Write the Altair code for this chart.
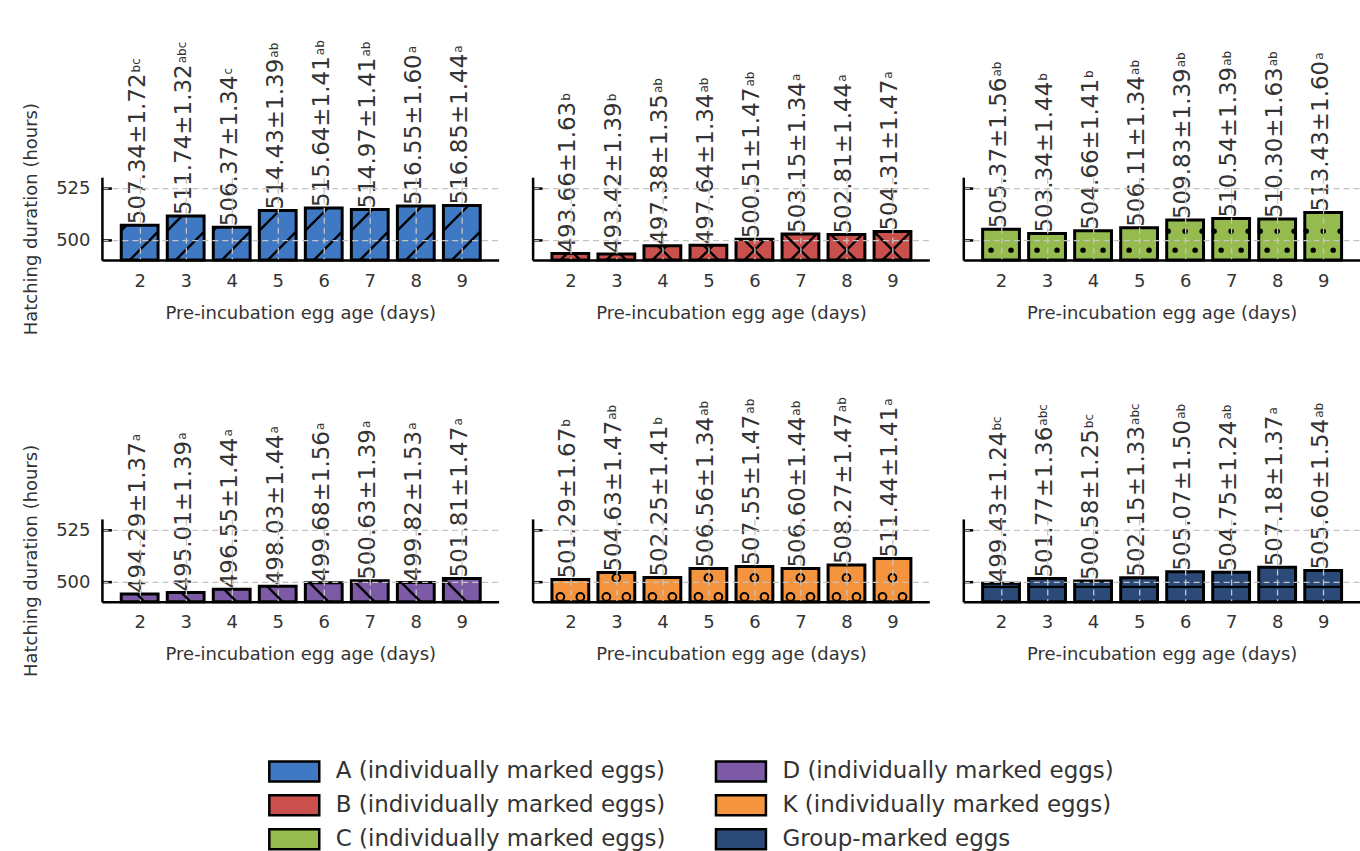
import altair as alt
import pandas as pd

# ---- data -------------------------------------------------------------
DAYS = [2, 3, 4, 5, 6, 7, 8, 9]

A_MEAN = [507.34, 511.74, 506.37, 514.43, 515.64, 514.97, 516.55, 516.85]
A_SE = [1.72, 1.32, 1.34, 1.39, 1.41, 1.41, 1.60, 1.44]
A_LET = ["bc", "abc", "c", "ab", "ab", "ab", "a", "a"]

B_MEAN = [493.66, 493.42, 497.38, 497.64, 500.51, 503.15, 502.81, 504.31]
B_SE = [1.63, 1.39, 1.35, 1.34, 1.47, 1.34, 1.44, 1.47]
B_LET = ["b", "b", "ab", "ab", "ab", "a", "a", "a"]

C_MEAN = [505.37, 503.34, 504.66, 506.11, 509.83, 510.54, 510.30, 513.43]
C_SE = [1.56, 1.44, 1.41, 1.34, 1.39, 1.39, 1.63, 1.60]
C_LET = ["ab", "b", "b", "ab", "ab", "ab", "ab", "a"]

D_MEAN = [494.29, 495.01, 496.55, 498.03, 499.68, 500.63, 499.82, 501.81]
D_SE = [1.37, 1.39, 1.44, 1.44, 1.56, 1.39, 1.53, 1.47]
D_LET = ["a", "a", "a", "a", "a", "a", "a", "a"]

K_MEAN = [501.29, 504.63, 502.25, 506.56, 507.55, 506.60, 508.27, 511.44]
K_SE = [1.67, 1.47, 1.41, 1.34, 1.47, 1.44, 1.47, 1.41]
K_LET = ["b", "ab", "b", "ab", "ab", "ab", "ab", "a"]

G_MEAN = [499.43, 501.77, 500.58, 502.15, 505.07, 504.75, 507.18, 505.60]
G_SE = [1.24, 1.36, 1.25, 1.33, 1.50, 1.24, 1.37, 1.54]
G_LET = ["bc", "abc", "bc", "abc", "ab", "ab", "a", "ab"]

NAMES = {
    "A": "A (individually marked eggs)",
    "B": "B (individually marked eggs)",
    "C": "C (individually marked eggs)",
    "D": "D (individually marked eggs)",
    "K": "K (individually marked eggs)",
    "G": "Group-marked eggs",
}
COLORS = {
    "A": "#4079c3",
    "B": "#c9504c",
    "C": "#95ba4d",
    "D": "#7d5aa6",
    "K": "#f4943f",
    "G": "#2b4a77",
}
# the legend grid is filled column by column
LEGEND_ORDER = ["A", "B", "C", "D", "K", "G"]

# ---- layout / style ---------------------------------------------------
FONT = "DejaVu Sans"
W, H = 397, 83
X_MIN, X_MAX = 1.18, 9.8
Y_MIN, Y_MAX = 490.5, 530.5
HALF = 0.4                      # half bar width in days
SX = W / (X_MAX - X_MIN)        # px per day
SY = H / (Y_MAX - Y_MIN)        # px per hour
LABEL_SIZE = 23
SUP_SIZE = 12
LABEL_LEN = 6.562 * LABEL_SIZE  # "ddd.dd±d.dd" advance in DejaVu Sans
TEXT = "#333333"
GRID = "#c4c4c4"
HATCH_STEP = 38.0               # px between diagonal hatch lines

xs = alt.Scale(domain=[X_MIN, X_MAX], nice=False, zero=False)
ys = alt.Scale(domain=[Y_MIN, Y_MAX], nice=False, zero=False)

color_scale = alt.Scale(domain=[NAMES[k] for k in LEGEND_ORDER],
                        range=[COLORS[k] for k in LEGEND_ORDER])

# wide swatch: a 5:2 rectangle drawn from a 20px symbol
legend = alt.Legend(
    title=None, orient="none", legendX=181, legendY=583, columns=2,
    symbolType="M-2.5,-1H2.5V1H-2.5Z", symbolSize=400,
    symbolStrokeColor="black", symbolStrokeWidth=2.5, symbolOpacity=1,
    labelFont=FONT, labelFontSize=23, labelColor=TEXT, labelLimit=500,
    labelOffset=30, rowPadding=3, columnPadding=44, padding=0,
)

x_axis = alt.Axis(
    values=DAYS, format="d", title="Pre-incubation egg age (days)",
    ticks=False, labelPadding=12, titlePadding=14, grid=True, zindex=1,
    domainColor="black", domainWidth=2.5,
    labelFont=FONT, titleFont=FONT, labelFontSize=18, titleFontSize=18,
    labelColor=TEXT, titleColor=TEXT, titleFontWeight="normal",
    gridColor=GRID, gridDash=[6, 4], gridWidth=1.3,
)


def y_axis(first):
    return alt.Axis(
        values=[500, 525], title="Hatching duration (hours)" if first else "",
        labels=first, ticks=False, labelPadding=12, titlePadding=15,
        grid=True, zindex=1, domainColor="black", domainWidth=2.5,
        labelFont=FONT, titleFont=FONT, labelFontSize=18, titleFontSize=18,
        labelColor=TEXT, titleColor=TEXT, titleFontWeight="normal",
        gridColor=GRID, gridDash=[6, 4], gridWidth=1.3,
    )


def to_data(day, u, v):
    """bar-local pixel offsets (v right of centre, u above base) -> data"""
    return day + v / SX, Y_MIN + u / SY


def hatch_segments(df, kind):
    """hatch strokes for each bar, clipped to the bar rectangle"""
    rows = []
    hw = HALF * SX
    for day, mean in zip(df["day"], df["mean"]):
        hgt = (mean - Y_MIN) * SY
        segs = []
        if kind in ("/", "x"):
            off = -10.0
            for k in range(-4, 3):
                c = off + k * HATCH_STEP          # v = u + c
                u0, u1 = max(0.0, -hw - c), min(hgt, hw - c)
                if u1 > u0 + 0.5:
                    segs.append((u0, u0 + c, u1, u1 + c))
        if kind in ("\\", "x"):
            off = 5.0 if kind == "\\" else 10.0
            for k in range(-3, 5):
                c = off + k * HATCH_STEP          # v = c - u
                u0, u1 = max(0.0, c - hw), min(hgt, c + hw)
                if u1 > u0 + 0.5:
                    segs.append((u0, c - u0, u1, c - u1))
        if kind == "-":
            u = 15.0
            while u < hgt - 1.5:
                segs.append((u, -hw, u, hw))
                u += 19.0
        for ua, va, ub, vb in segs:
            xa, ya = to_data(day, ua, va)
            xb, yb = to_data(day, ub, vb)
            rows.append({"hx": xa, "hy": ya, "hx2": xb, "hy2": yb})
    return pd.DataFrame(rows, columns=["hx", "hy", "hx2", "hy2"])


def hatch_points(df, first_u, radius, edge):
    """staggered grid of small circles inside each bar"""
    rows = []
    for day, mean in zip(df["day"], df["mean"]):
        hgt = (mean - Y_MIN) * SY
        u, i = first_u, 0
        while u + radius < hgt - 1.0:
            if i % 2 == 0:
                offs = (-10.0, 10.0)
            else:
                offs = (-edge, 0.0, edge) if edge else (0.0,)
            for v in offs:
                xa, ya = to_data(day, u, v)
                rows.append({"hx": xa, "hy": ya})
            u += 19.0
            i += 1
    return pd.DataFrame(rows, columns=["hx", "hy"])


def panel(key, means, ses, letters, hatch, first):
    df = pd.DataFrame({"day": DAYS, "mean": means, "se": ses, "sup": letters})
    df["group"] = NAMES[key]
    df["x0"] = df["day"] - HALF
    df["x1"] = df["day"] + HALF
    df["base"] = Y_MIN
    df["label"] = [f"{m:.2f}±{s:.2f}" for m, s in zip(means, ses)]
    ya = y_axis(first)

    bars = alt.Chart(df).mark_rect(stroke="black", strokeWidth=3).encode(
        x=alt.X("x0:Q", scale=xs, axis=x_axis),
        x2="x1:Q",
        y=alt.Y("mean:Q", scale=ys, axis=ya),
        y2="base:Q",
        color=alt.Color("group:N", scale=color_scale, legend=legend),
    )
    layers = [bars]

    if hatch in ("/", "\\", "x", "-"):
        hd = hatch_segments(df, hatch)
        layers.append(
            alt.Chart(hd).mark_rule(color="black", strokeWidth=2.4).encode(
                x=alt.X("hx:Q", scale=xs, axis=x_axis), x2="hx2:Q",
                y=alt.Y("hy:Q", scale=ys, axis=ya), y2="hy2:Q",
            )
        )
    elif hatch == ".":
        hd = hatch_points(df, 10.0, 2.5, 17.0)
        layers.append(
            alt.Chart(hd).mark_point(shape="circle", filled=True, size=30,
                                     color="black", opacity=1).encode(
                x=alt.X("hx:Q", scale=xs, axis=x_axis),
                y=alt.Y("hy:Q", scale=ys, axis=ya),
            )
        )
    elif hatch == "o":
        hd = hatch_points(df, 5.0, 4.0, 0.0)
        layers.append(
            alt.Chart(hd).mark_point(shape="circle", filled=False, size=60,
                                     color="black", strokeWidth=2,
                                     opacity=1).encode(
                x=alt.X("hx:Q", scale=xs, axis=x_axis),
                y=alt.Y("hy:Q", scale=ys, axis=ya),
            )
        )

    labels = alt.Chart(df).mark_text(
        angle=270, align="left", baseline="middle", dx=1, dy=-2,
        font=FONT, fontSize=LABEL_SIZE, color=TEXT,
    ).encode(
        x=alt.X("day:Q", scale=xs, axis=x_axis),
        y=alt.Y("mean:Q", scale=ys, axis=ya),
        text="label:N",
    )
    # raised letter groups after each label
    sups = alt.Chart(df).mark_text(
        angle=270, align="left", baseline="alphabetic", dx=2 + LABEL_LEN,
        dy=0, font=FONT, fontSize=SUP_SIZE, color=TEXT,
    ).encode(
        x=alt.X("day:Q", scale=xs, axis=x_axis),
        y=alt.Y("mean:Q", scale=ys, axis=ya),
        text="sup:N",
    )
    ticks = alt.Chart(pd.DataFrame({"t": [500, 525]})).mark_rule(
        color="black", strokeWidth=2.5
    ).encode(
        y=alt.Y("t:Q", scale=ys, axis=ya),
        x=alt.value(0), x2=alt.value(10),
    )
    layers += [labels, sups, ticks]
    return alt.layer(*layers).properties(width=W, height=H)


panels = [
    panel("A", A_MEAN, A_SE, A_LET, "/", True),
    panel("B", B_MEAN, B_SE, B_LET, "x", False),
    panel("C", C_MEAN, C_SE, C_LET, ".", False),
    panel("D", D_MEAN, D_SE, D_LET, "\\", True),
    panel("K", K_MEAN, K_SE, K_LET, "o", False),
    panel("G", G_MEAN, G_SE, G_LET, "-", False),
]

chart = (
    alt.concat(*panels, columns=3, spacing={"row": 259, "column": 34},
               bounds="flush")
    .properties(padding={"left": 22, "top": 39, "right": 0, "bottom": 0},
                background="white")
    .configure_view(strokeWidth=0)
)

chart.save("out.html", embed_options={"renderer": "svg", "actions": False})
